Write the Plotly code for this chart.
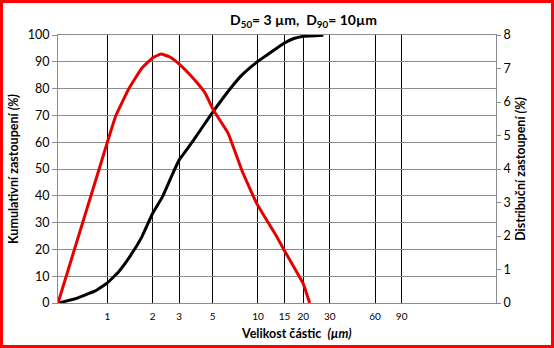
import math
import plotly.graph_objects as go

# Cumulative distribution (left axis, %)
size_cum = [0.47, 0.604, 0.831, 1.0, 1.185, 1.424, 1.688, 2.0, 2.31, 2.702, 3.0,
            3.656, 4.838, 6.618, 7.90, 10.0, 13.26, 15.0, 17.32, 20.0, 27.22]
cum_pct = [0, 1.5, 4.5, 7.5, 11.6, 17.7, 24.5, 33.5, 39.4, 48.0, 53.4,
           60.0, 70.0, 80.3, 85.3, 90.2, 95.0, 97.0, 98.7, 99.5, 99.9]

# Distribution (right axis, %)
size_dist = [0.47, 1.0, 1.136, 1.385, 1.688, 2.0, 2.27, 2.588, 3.0, 3.462, 3.971,
             4.457, 5.074, 6.33, 7.90, 9.85, 13.26, 15.0, 20.0, 22.04]
dist_pct = [0, 4.8, 5.58, 6.39, 7.0, 7.32, 7.43, 7.35, 7.13, 6.86, 6.56,
            6.27, 5.75, 5.07, 3.91, 2.96, 2.0, 1.56, 0.57, 0]

x_ticks = [1, 2, 3, 5, 10, 15, 20, 30, 60, 90]
x_tick_text = [str(v) for v in x_ticks]
x_range_um = [0.47, 381]

FONT = "Lato"
GRAY = "#8C8C8C"
W, H = 554, 348
ML, MR, MT, MB = 58, 58, 35, 45
PW, PH = W - ML - MR, H - MT - MB

fig = go.Figure()
fig.add_trace(go.Scatter(x=size_cum, y=cum_pct, mode="lines",
                         line=dict(color="#000000", width=3, shape="spline", smoothing=0.3),
                         yaxis="y", name="Kumulativní"))
fig.add_trace(go.Scatter(x=size_dist, y=dist_pct, mode="lines",
                         line=dict(color="#E60000", width=3, shape="spline", smoothing=0.3),
                         yaxis="y2", name="Distribuční"))

fig.update_layout(
    width=W, height=H,
    margin=dict(l=ML, r=MR, t=MT, b=MB),
    paper_bgcolor="white", plot_bgcolor="white",
    showlegend=False,
    font=dict(family=FONT, color="#000000"),
    title=dict(text="<b>D<sub>50</sub>= 3 µm,\u00a0 D<sub>90</sub>= 10µm</b>",
               x=(303.5 - ML) / PW, xref="paper", xanchor="center",
               y=1 - 20 / H, yref="container", yanchor="middle",
               font=dict(size=14, family=FONT)),
    xaxis=dict(type="log", range=[math.log10(v) for v in x_range_um],
               tickvals=x_ticks, ticktext=x_tick_text,
               showgrid=True, gridcolor="#000000", gridwidth=1,
               showline=True, linecolor=GRAY, linewidth=1, mirror=True,
               ticks="", ticklabelstandoff=4, tickfont=dict(size=10, family=FONT),
               zeroline=False),
    yaxis=dict(range=[0, 100], dtick=10, showgrid=True, gridcolor=GRAY, gridwidth=1,
               showline=True, linecolor=GRAY, linewidth=1,
               ticks="outside", ticklen=5, tickcolor=GRAY,
               tickfont=dict(size=12.5, family=FONT), zeroline=False,
               title=dict(text="<b>Kumulativní zastoupení <i>(%)</i></b>",
                          font=dict(size=12.5, family=FONT), standoff=6)),
    yaxis2=dict(range=[0, 8], dtick=1, overlaying="y", side="right", showgrid=False,
                showline=True, linecolor=GRAY, linewidth=1,
                ticks="outside", ticklen=4, tickcolor=GRAY,
                tickfont=dict(size=12.5, family=FONT), zeroline=False,
                title=dict(text="<b>Distribuční zastoupení <i>(%)</i></b>",
                           font=dict(size=12.5, family=FONT), standoff=6)),
)

# x-axis title placed as in the reference (offset to the right of centre)
fig.add_annotation(text="<b>Velikost částic\u00a0 <i>(µm)</i></b>",
                   xref="paper", yref="paper",
                   x=(296 - ML) / PW, y=-(333 - (MT + PH)) / PH,
                   xanchor="center", yanchor="middle", showarrow=False,
                   font=dict(size=12.5, family=FONT))

# red frame around the whole chart
b = 1.5
fig.add_shape(type="rect", xref="paper", yref="paper",
              x0=(-ML + b) / PW, x1=1 + (MR - b) / PW,
              y0=(-MB + b) / PH, y1=1 + (MT - b) / PH,
              line=dict(color="#FF0000", width=3), layer="above")

fig.write_html("out.html")
